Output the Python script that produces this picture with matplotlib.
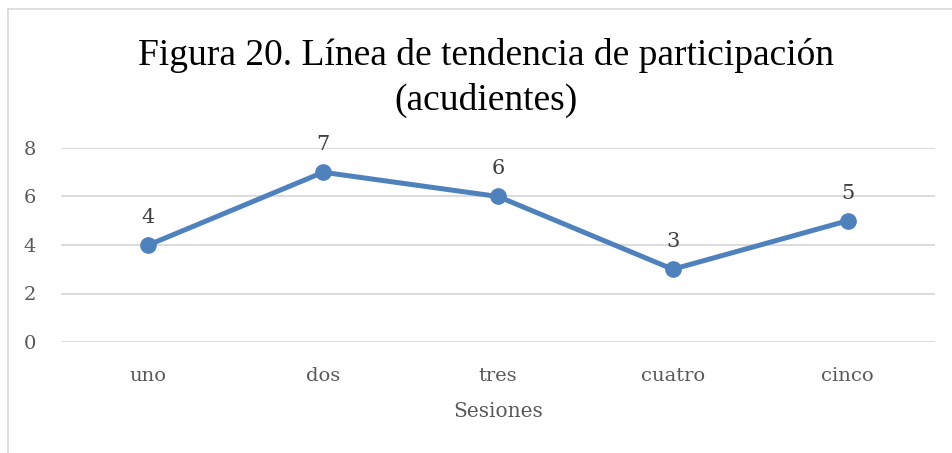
import matplotlib
matplotlib.use("Agg")
import matplotlib.pyplot as plt
from matplotlib.lines import Line2D

categories = ["uno", "dos", "tres", "cuatro", "cinco"]
values = [4, 7, 6, 3, 5]
yticks = [0, 2, 4, 6, 8]
title = "Figura 20. Línea de tendencia de participación\n(acudientes)"
xlabel = "Sesiones"

W, H = 953, 453
fig = plt.figure(figsize=(W / 100, H / 100), dpi=100)
ax = fig.add_axes([61 / W, 1 - 342 / H, (935 - 61) / W, (342 - 148) / H])

x = list(range(len(categories)))
color = "#4F81BD"
ax.plot(x, values, color=color, lw=3.6, marker="o", markersize=11, clip_on=False,
        solid_capstyle="round", zorder=3)
for xi, v in zip(x, values):
    ax.annotate(str(v), (xi, v), xytext=(0, 13), textcoords="offset points",
                ha="center", va="bottom", fontsize=15, color="#404040",
                family="DejaVu Serif")

ax.set_xlim(-0.5, len(categories) - 0.5)
ax.set_ylim(0, 8)
ax.set_yticks(yticks)
ax.set_xticks(x)
ax.set_xticklabels(categories)
ax.grid(axis="y", color="#D9D9D9", lw=1.3)
ax.set_axisbelow(True)
for s in ax.spines.values():
    s.set_visible(False)
ax.tick_params(length=0, labelsize=14, labelcolor="#595959")
ax.tick_params(axis="x", pad=18)
ax.tick_params(axis="y", pad=18)
for lbl in ax.get_xticklabels() + ax.get_yticklabels():
    lbl.set_family("DejaVu Serif")
ax.set_xlabel(xlabel, fontsize=14.5, color="#595959", family="DejaVu Serif", labelpad=12)

fig.text(486 / W, 1 - 38 / H, title, ha="center", va="top", fontsize=27,
         family="Liberation Serif", color="black", linespacing=1.35)

# chart frame
fig.add_artist(Line2D([8 / W, 1], [1 - 9 / H, 1 - 9 / H], color="#D9D9D9", lw=1.2,
                      transform=fig.transFigure))
fig.add_artist(Line2D([8 / W, 8 / W], [1 - 9 / H, 0], color="#D9D9D9", lw=1.2,
                      transform=fig.transFigure))

fig.savefig("out.png", dpi=100, facecolor="white")
